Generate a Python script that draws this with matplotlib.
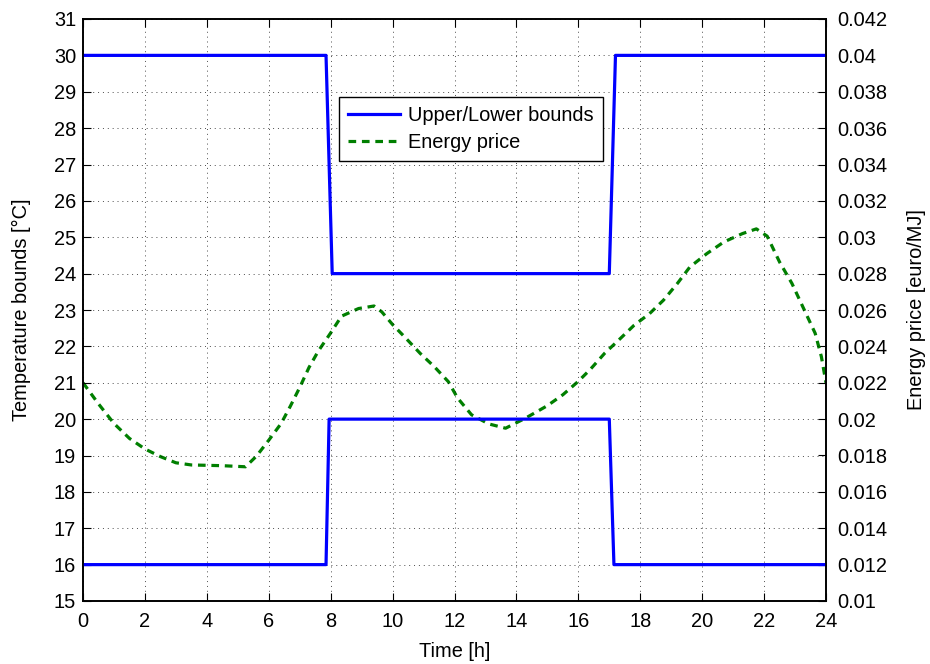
import matplotlib.pyplot as plt
import numpy as np

plt.rcParams['font.family'] = ['Liberation Sans', 'DejaVu Sans']

# comfort bounds (step shaped)
t_upper = [0, 7.85, 8.05, 17.0, 17.2, 24]
upper = [30, 30, 24, 24, 30, 30]
t_lower = [0, 7.85, 7.95, 17.0, 17.15, 24]
lower = [16, 16, 20, 20, 16, 16]

# energy price
t_price = [0, 0.5, 1.0, 1.5, 2.0, 2.5, 3.0, 3.5, 4.0, 4.5, 5.0, 5.25, 5.6, 6.0,
           6.4, 6.7, 7.0, 7.3, 7.6, 8.0, 8.35, 8.9, 9.4, 9.65, 10.0, 10.4, 10.9,
           11.35, 11.8, 12.1, 12.55, 13.1, 13.65, 14.3, 15.0, 15.5, 16.0, 16.4,
           16.85, 17.3, 17.8, 18.3, 18.75, 19.2, 19.6, 20.15, 20.7, 21.3, 21.75,
           22.1, 22.5, 22.9, 23.25, 23.65, 23.85, 24.0]
price = [0.0220, 0.02084, 0.01976, 0.01894, 0.01836, 0.01794, 0.0176, 0.01748,
         0.01746, 0.01744, 0.0174, 0.01738, 0.01796, 0.01884, 0.01976, 0.02072,
         0.02174, 0.02284, 0.02374, 0.02474, 0.02566, 0.02608, 0.02622, 0.0259,
         0.0252, 0.0245, 0.0236, 0.02288, 0.02206, 0.02116, 0.02024, 0.01974,
         0.0195, 0.02006, 0.02074, 0.02134, 0.02208, 0.02276, 0.02362, 0.02434,
         0.02516, 0.0258, 0.02654, 0.02746, 0.02836, 0.0291, 0.02974, 0.0302,
         0.03046, 0.03006, 0.02864, 0.02746, 0.02618, 0.02472, 0.02344, 0.022]

fs = 14.4

fig = plt.figure(figsize=(9.3, 6.64), dpi=100)
ax = fig.add_axes([83 / 930, 1 - 601 / 664, 743 / 930, 582 / 664])
ax2 = ax.twinx()

l1, = ax.plot(t_upper, upper, color='#0000ff', lw=2.3, label='Upper/Lower bounds')
ax.plot(t_lower, lower, color='#0000ff', lw=2.3)
l2, = ax2.plot(t_price, price, color='#007f00', lw=2.3, dashes=(2.4, 1.8),
               label='Energy price')

ax.set_xlim(0, 24)
ax.set_ylim(15, 31)
ax2.set_ylim(0.01, 0.042)
ax.set_xticks(np.arange(0, 25, 2))
ax.set_yticks(np.arange(15, 32, 1))
ax2.set_yticks(np.arange(0.01, 0.0421, 0.002))
ax2.set_yticklabels(['%g' % v for v in np.round(np.arange(0.01, 0.0421, 0.002), 3)])

ax.grid(True, color='black', linestyle=(0, (1, 4)), linewidth=0.7, alpha=0.7)
for a in (ax, ax2):
    a.tick_params(direction='in', length=6, labelsize=fs, width=0.8)
    for s in a.spines.values():
        s.set_linewidth(1.2)
ax.tick_params(axis='x', pad=8, top=True)
ax.tick_params(axis='y', pad=5)
ax2.tick_params(axis='y', pad=8)

ax.set_xlabel('Time [h]', fontsize=fs, labelpad=8)
ax.set_ylabel('Temperature bounds [°C]', fontsize=fs, labelpad=16)
ax2.set_ylabel('Energy price [euro/MJ]', fontsize=fs, labelpad=14)

leg = ax.legend(handles=[l1, l2], loc='upper left', bbox_to_anchor=(339 / 930, 1 - 97 / 664),
                bbox_transform=fig.transFigure, fontsize=fs, fancybox=False,
                framealpha=1, edgecolor='black', borderpad=0.45, labelspacing=0.4,
                handlelength=2.6, handletextpad=0.4, borderaxespad=0)
leg.get_frame().set_linewidth(1.0)
leg.set_zorder(5)
ax.set_zorder(ax2.get_zorder() + 1)
ax.patch.set_visible(False)

fig.savefig('out.png', dpi=100)
